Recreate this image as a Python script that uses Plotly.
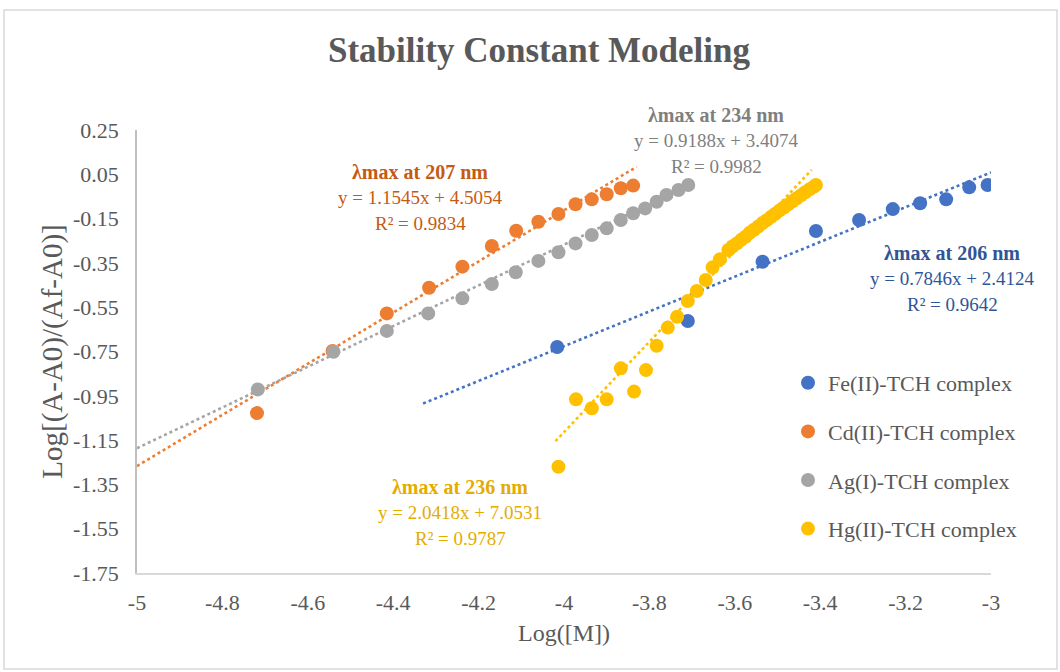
import plotly.graph_objects as go

# ---------------- data ----------------
fe_x = [-4.016, -3.710, -3.535, -3.410, -3.309, -3.230, -3.166, -3.105, -3.051, -3.008]
fe_y = [-0.730, -0.612, -0.345, -0.206, -0.156, -0.107, -0.081, -0.063, -0.009, 0.002]

cd_x = [-4.719, -4.542, -4.415, -4.316, -4.238, -4.169, -4.112, -4.060, -4.013, -3.973, -3.935, -3.900, -3.867, -3.838]
cd_y = [-1.028, -0.748, -0.578, -0.462, -0.367, -0.274, -0.205, -0.164, -0.129, -0.085, -0.063, -0.040, -0.013, -0.001]

ag_x = [-4.717, -4.540, -4.415, -4.318, -4.238, -4.169, -4.113, -4.060, -4.013, -3.973, -3.935, -3.900,
        -3.867, -3.838, -3.810, -3.783, -3.760, -3.732, -3.709]
ag_y = [-0.921, -0.751, -0.657, -0.578, -0.510, -0.445, -0.392, -0.341, -0.302, -0.262, -0.224, -0.194,
        -0.156, -0.126, -0.104, -0.074, -0.043, -0.021, 0.002]

hg_x = [-4.013, -3.972, -3.935, -3.900, -3.867, -3.836, -3.808, -3.783, -3.757, -3.735, -3.710, -3.689,
        -3.668, -3.652, -3.635, -3.615, -3.605, -3.595, -3.585, -3.575, -3.565, -3.555, -3.545, -3.535,
        -3.525, -3.515, -3.505, -3.495, -3.485, -3.475, -3.465, -3.455, -3.445, -3.435, -3.425, -3.415, -3.410]
hg_y = [-1.270, -0.966, -1.006, -0.966, -0.826, -0.931, -0.834, -0.724, -0.642, -0.593, -0.522, -0.477,
        -0.427, -0.370, -0.334, -0.292, -0.275, -0.262, -0.246, -0.232, -0.214, -0.200, -0.186, -0.170,
        -0.157, -0.142, -0.128, -0.113, -0.100, -0.086, -0.072, -0.058, -0.045, -0.031, -0.018, -0.006, 0.002]

series_names = ["Fe(II)-TCH complex", "Cd(II)-TCH complex", "Ag(I)-TCH complex", "Hg(II)-TCH complex"]

# trendline (slope, intercept) and drawn x-extent, from the chart labels
fe_fit = [0.7846, 2.4124]
cd_fit = [1.1545, 4.5054]
ag_fit = [0.9188, 3.4074]
hg_fit = [2.0418, 7.0531]
fe_span = [-4.33, -3.0]
cd_span = [-5.0, -3.83]
ag_span = [-5.0, -3.70]
hg_span = [-4.02, -3.42]

fit_labels = [
    ["λmax at 206 nm", "y = 0.7846x + 2.4124", "R² = 0.9642"],
    ["λmax at 207 nm", "y = 1.1545x + 4.5054", "R² = 0.9834"],
    ["λmax at 234 nm", "y = 0.9188x + 3.4074", "R² = 0.9982"],
    ["λmax at 236 nm", "y = 2.0418x + 7.0531", "R² = 0.9787"],
]

x_ticks = [-5, -4.8, -4.6, -4.4, -4.2, -4, -3.8, -3.6, -3.4, -3.2, -3]
x_ticktext = ["-5", "-4.8", "-4.6", "-4.4", "-4.2", "-4", "-3.8", "-3.6", "-3.4", "-3.2", "-3"]
y_ticks = [0.25, 0.05, -0.15, -0.35, -0.55, -0.75, -0.95, -1.15, -1.35, -1.55, -1.75]
y_ticktext = ["0.25", "0.05", "-0.15", "-0.35", "-0.55", "-0.75", "-0.95", "-1.15", "-1.35", "-1.55", "-1.75"]

# ---------------- styling ----------------
marker_colors = ["#4472C4", "#ED7D31", "#A5A5A5", "#FFC000"]
label_colors = ["#2F5597", "#C55A11", "#7F7F7F", "#E5AC00"]
FONT = "Liberation Serif"
TXT = "#595959"

W, H = 1060, 672
L, R, T, B = 137, 69, 130, 99
PW, PH = W - L - R, H - T - B

fig = go.Figure()

xs = [fe_x, cd_x, ag_x, hg_x]
ys = [fe_y, cd_y, ag_y, hg_y]
fits = [fe_fit, cd_fit, ag_fit, hg_fit]
spans = [fe_span, cd_span, ag_span, hg_span]

# trendlines first (under markers)
for i in range(4):
    m, b = fits[i]
    sx = spans[i]
    fig.add_trace(go.Scatter(
        x=sx, y=[m * v + b for v in sx], mode="lines",
        line=dict(color=marker_colors[i], width=2.6, dash="dot"),
        showlegend=False, hoverinfo="skip"))

for i in range(4):
    fig.add_trace(go.Scatter(
        x=xs[i], y=ys[i], mode="markers", name=series_names[i],
        marker=dict(color=marker_colors[i], size=14, line=dict(width=0)),
        legendgroup=f"g{i}"))

def px2x(px):
    return (px - L) / PW

def py2y(py):
    return 1 - (py - T) / PH

# fit label annotations (centre x, first line y in pixels)
label_pos = [(952, 253), (420, 172), (716, 115), (460, 487)]
ann = []
for i, (cx, cy) in enumerate(label_pos):
    lines = fit_labels[i]
    for j, t in enumerate(lines):
        ann.append(dict(
            x=px2x(cx), y=py2y(cy + j * 25.5), xref="paper", yref="paper",
            text=f"<b>{t}</b>" if j == 0 else t, showarrow=False,
            xanchor="center", yanchor="middle",
            font=dict(family=FONT, size=20 if j == 0 else 19, color=label_colors[i])))

fig.update_layout(
    width=W, height=H,
    font=dict(family=FONT, color=TXT),
    margin=dict(l=L, r=R, t=T, b=B),
    paper_bgcolor="white", plot_bgcolor="white",
    title=dict(text="<b>Stability Constant Modeling</b>", x=539 / W,
               xanchor="center", y=1 - 50 / H, yanchor="middle",
               font=dict(family=FONT, size=35, color=TXT)),
    legend=dict(x=px2x(788), y=py2y(362), xanchor="left", yanchor="top",
                font=dict(family=FONT, size=22, color=TXT), tracegroupgap=17,
                bgcolor="rgba(0,0,0,0)", itemwidth=30),
    annotations=ann,
    shapes=[dict(type="rect", xref="paper", yref="paper",
                 x0=px2x(4), x1=px2x(1057), y0=py2y(669), y1=py2y(10),
                 line=dict(color="#D9D9D9", width=1.5), fillcolor="rgba(0,0,0,0)", layer="below")],
)
fig.update_xaxes(range=[-5, -3], tickmode="array", tickvals=x_ticks, ticktext=x_ticktext, showgrid=False,
                 zeroline=False, showline=True, linecolor="#D9D9D9", linewidth=1.5,
                 ticks="", ticklabelstandoff=9,
                 tickfont_family=FONT, tickfont_size=22, tickfont_color=TXT,
                 title_text="Log([M])", title_font=dict(family=FONT, size=24, color=TXT), title_standoff=10)
fig.update_yaxes(range=[-1.75, 0.25], tickmode="array", tickvals=y_ticks, ticktext=y_ticktext, showgrid=False,
                 zeroline=False, showline=True, linecolor="#BFBFBF", linewidth=1.5,
                 ticks="", ticklabelstandoff=12,
                 tickfont_family=FONT, tickfont_size=22, tickfont_color=TXT,
                 title_text="Log[(A-A0)/(Af-A0)]", title_font=dict(family=FONT, size=29, color=TXT), title_standoff=2)

fig.write_html("out.html")
